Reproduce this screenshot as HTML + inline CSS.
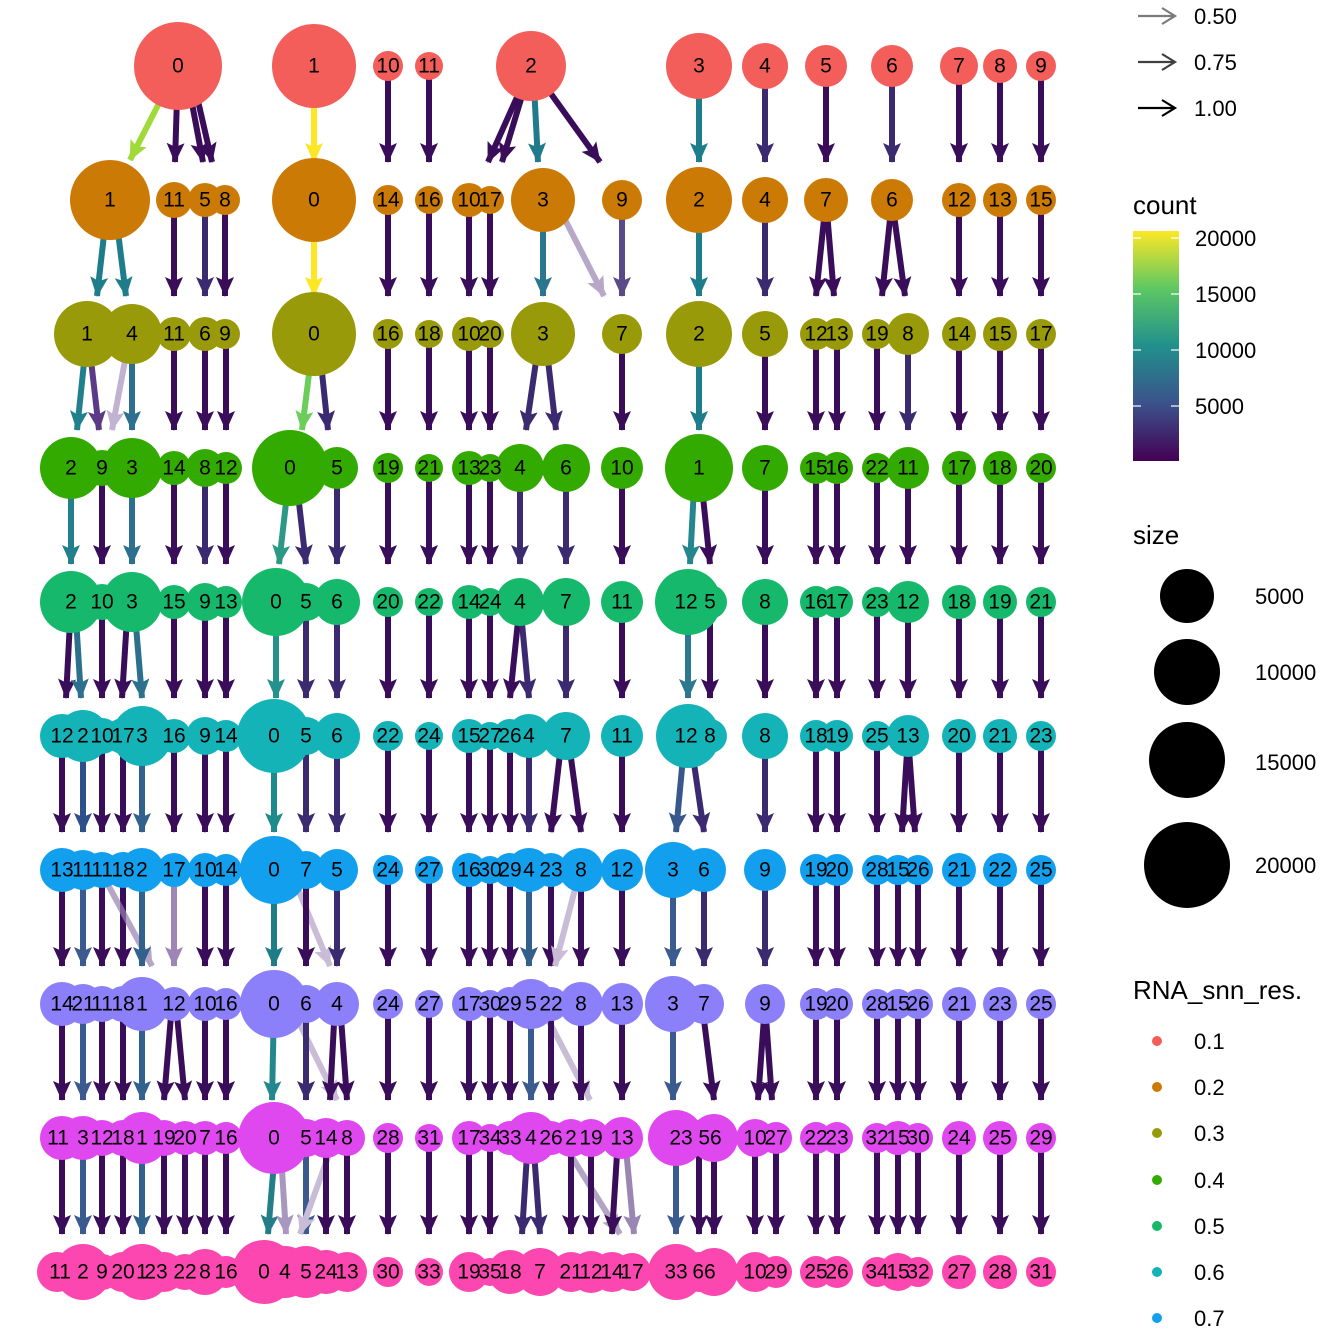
<!DOCTYPE html>
<html><head><meta charset="utf-8"><style>
html,body{margin:0;padding:0;background:#fff}
svg{display:block}
text{font-family:"Liberation Sans",sans-serif;fill:#000}
.n text{font-size:21px;text-anchor:middle;dominant-baseline:central}
.e path{fill:none;stroke-width:6;marker-end:url(#ah)}
</style></head><body>
<svg width="1344" height="1344" viewBox="0 0 1344 1344" xmlns="http://www.w3.org/2000/svg">
<defs>
<marker id="ah" markerUnits="userSpaceOnUse" markerWidth="22" markerHeight="22" refX="19" refY="11" orient="auto" viewBox="0 0 22 22">
<path d="M0,2 L20,11 L0,20 L4,11 z" fill="context-stroke" stroke="none"/>
</marker>
<linearGradient id="vir" x1="0" y1="1" x2="0" y2="0">
<stop offset="0" stop-color="#440154"/><stop offset="0.25" stop-color="#3B528B"/><stop offset="0.5" stop-color="#21908C"/><stop offset="0.75" stop-color="#5DC863"/><stop offset="1" stop-color="#FDE725"/>
</linearGradient>
</defs>
<g class="e" stroke="#3a0d5a">
<!-- T1 -->
<path d="M178 66L130 160" stroke="#A0DA39"/><path d="M178 66L175 162"/><path d="M185 66L203 162"/><path d="M190 66L212 162"/>
<path d="M314 66L314 162" stroke="#FDE725"/><path d="M388 66L388 162"/><path d="M429 66L429 162"/>
<path d="M531 66L488 162"/><path d="M531 66L502 162"/><path d="M533 66L538 162" stroke="#1F7A8C"/><path d="M531 66L600 162"/>
<path d="M699 66L699 162" stroke="#1E7D8B"/><path d="M765 66L765 162" stroke="#3b2a70"/><path d="M826 66L826 162"/><path d="M892 66L892 162" stroke="#3b2a70"/><path d="M959 66L959 162"/><path d="M1000 66L1000 162"/><path d="M1041 66L1041 162"/>
<!-- T2 -->
<path d="M108 200L97 296" stroke="#1F7D8B"/><path d="M114 200L126 296" stroke="#1F7D8B"/><path d="M174 200L174 296"/><path d="M205 200L205 296" stroke="#3b2a70"/><path d="M225 200L225 296"/>
<path d="M314 200L314 296" stroke="#FDE725"/><path d="M388 200L388 296"/><path d="M429 200L429 296"/><path d="M469 200L469 296"/><path d="M490 200L490 296"/>
<path d="M543 200L543 296" stroke="#2A768E"/><path d="M555 200L604 296" stroke="#b7a8c8"/><path d="M622 200L622 296" stroke="#5a4a88"/><path d="M699 200L699 296" stroke="#1E7D8B"/><path d="M765 200L765 296" stroke="#3b2a70"/>
<path d="M826 200L816 296"/><path d="M826 200L834 296"/><path d="M892 200L882 296"/><path d="M892 200L905 296"/><path d="M959 200L959 296"/><path d="M1000 200L1000 296"/><path d="M1041 200L1041 296"/>
<!-- T3 -->
<path d="M87 334L77 430" stroke="#21808C"/><path d="M88 334L99 430" stroke="#5b3a88"/><path d="M130 334L112 430" stroke="#c0b2d0"/><path d="M132 334L132 430" stroke="#2D6F8E"/><path d="M174 334L174 430"/><path d="M205 334L205 430"/><path d="M226 334L226 430"/>
<path d="M314 334L302 430" stroke="#6CCD5A"/><path d="M318 334L328 430" stroke="#3b2a70"/><path d="M388 334L388 430"/><path d="M429 334L429 430"/><path d="M469 334L469 430"/><path d="M490 334L490 430"/>
<path d="M540 334L526 430" stroke="#3b2a70"/><path d="M545 334L556 430" stroke="#3b2a70"/><path d="M622 334L622 430"/><path d="M699 334L699 430" stroke="#1E7D8B"/><path d="M765 334L765 430"/><path d="M816 334L816 430"/><path d="M837 334L837 430"/><path d="M877 334L877 430"/><path d="M908 334L908 430" stroke="#3b2a70"/><path d="M959 334L959 430"/><path d="M1000 334L1000 430"/><path d="M1041 334L1041 430"/>
<!-- T4 -->
<path d="M71 468L71 564" stroke="#21808C"/><path d="M102 468L102 564"/><path d="M132 468L132 564" stroke="#2D6F8E"/><path d="M174 468L174 564"/><path d="M205 468L205 564" stroke="#3b2a70"/><path d="M226 468L226 564"/>
<path d="M290 468L279 564" stroke="#2A9A86"/><path d="M295 468L306 564" stroke="#3b2a70"/><path d="M337 468L337 564" stroke="#3b2a70"/><path d="M388 468L388 564"/><path d="M429 468L429 564"/><path d="M469 468L469 564"/><path d="M490 468L490 564"/><path d="M520 468L520 564" stroke="#3b2a70"/><path d="M566 468L566 564" stroke="#3b2a70"/><path d="M622 468L622 564"/>
<path d="M695 468L690 564" stroke="#24868E"/><path d="M700 468L710 564"/><path d="M765 468L765 564"/><path d="M816 468L816 564"/><path d="M837 468L837 564"/><path d="M877 468L877 564"/><path d="M908 468L908 564"/><path d="M959 468L959 564"/><path d="M1000 468L1000 564"/><path d="M1041 468L1041 564"/>
<!-- T5 -->
<path d="M71 602L66 698"/><path d="M75 602L81 698" stroke="#2D708E"/><path d="M102 602L102 698"/><path d="M128 602L122 698"/><path d="M134 602L142 698" stroke="#2D708E"/><path d="M174 602L174 698"/><path d="M205 602L205 698"/><path d="M226 602L226 698"/>
<path d="M276 602L276 698" stroke="#25918C"/><path d="M306 602L306 698" stroke="#3b2a70"/><path d="M337 602L337 698" stroke="#3b2a70"/><path d="M388 602L388 698"/><path d="M429 602L429 698"/><path d="M469 602L469 698"/><path d="M490 602L490 698"/><path d="M520 602L510 698"/><path d="M520 602L529 698" stroke="#3b2a70"/><path d="M566 602L566 698" stroke="#3b2a70"/><path d="M622 602L622 698"/>
<path d="M688 602L688 698" stroke="#2C788E"/><path d="M710 602L710 698"/><path d="M765 602L765 698"/><path d="M816 602L816 698"/><path d="M837 602L837 698"/><path d="M877 602L877 698"/><path d="M908 602L908 698"/><path d="M959 602L959 698"/><path d="M1000 602L1000 698"/><path d="M1041 602L1041 698"/>
<!-- T6 -->
<path d="M62 736L62 832"/><path d="M83 736L83 832" stroke="#2D508a"/><path d="M102 736L102 832"/><path d="M123 736L123 832"/><path d="M142 736L142 832" stroke="#31628E"/><path d="M174 736L174 832"/><path d="M205 736L205 832"/><path d="M226 736L226 832"/>
<path d="M274 736L274 832" stroke="#1E8A8A"/><path d="M306 736L306 832" stroke="#3b2a70"/><path d="M337 736L337 832" stroke="#3b2a70"/><path d="M388 736L388 832"/><path d="M429 736L429 832"/><path d="M469 736L469 832"/><path d="M490 736L490 832"/><path d="M510 736L510 832"/><path d="M529 736L529 832" stroke="#3b2a70"/><path d="M562 736L551 832"/><path d="M568 736L581 832"/><path d="M622 736L622 832"/>
<path d="M685 736L676 832" stroke="#37578D"/><path d="M690 736L704 832" stroke="#3b2a70"/><path d="M765 736L765 832" stroke="#3b2a70"/><path d="M816 736L816 832"/><path d="M837 736L837 832"/><path d="M877 736L877 832"/><path d="M908 736L902 832"/><path d="M908 736L915 832"/><path d="M959 736L959 832"/><path d="M1000 736L1000 832"/><path d="M1041 736L1041 832"/>
<!-- T7 -->
<path d="M62 870L62 966"/><path d="M83 870L83 966" stroke="#3B5A8F"/><path d="M102 870L102 966"/><path d="M123 870L123 966"/><path d="M100 870L152 966" stroke="#9a80b0" opacity=".7"/><path d="M142 870L142 966" stroke="#31628E"/><path d="M174 870L174 966" stroke="#9D86B5"/><path d="M205 870L205 966"/><path d="M226 870L226 966"/>
<path d="M274 870L274 966" stroke="#1F7D88"/><path d="M290 870L330 966" stroke="#c8bcd6"/><path d="M306 870L306 966"/><path d="M337 870L337 966" stroke="#3b2a70"/><path d="M388 870L388 966"/><path d="M429 870L429 966"/><path d="M469 870L469 966"/><path d="M490 870L490 966"/><path d="M510 870L510 966"/><path d="M529 870L529 966" stroke="#335F8D"/><path d="M551 870L551 966"/><path d="M580 870L555 966" stroke="#c8bcd6"/><path d="M581 870L581 966"/><path d="M622 870L622 966"/>
<path d="M673 870L673 966" stroke="#3B5A8F"/><path d="M704 870L704 966" stroke="#3b2a70"/><path d="M765 870L765 966" stroke="#3b2a70"/><path d="M816 870L816 966"/><path d="M837 870L837 966"/><path d="M877 870L877 966"/><path d="M898 870L898 966"/><path d="M918 870L918 966"/><path d="M959 870L959 966"/><path d="M1000 870L1000 966"/><path d="M1041 870L1041 966"/>
<!-- T8 -->
<path d="M62 1004L62 1100"/><path d="M83 1004L83 1100" stroke="#3B5A8F"/><path d="M102 1004L102 1100"/><path d="M123 1004L123 1100"/><path d="M142 1004L142 1100" stroke="#31628E"/><path d="M172 1004L164 1100"/><path d="M176 1004L185 1100"/><path d="M205 1004L205 1100"/><path d="M226 1004L226 1100"/>
<path d="M274 1004L272 1100" stroke="#23888E"/><path d="M290 1004L337 1100" stroke="#c8bcd6"/><path d="M306 1004L306 1100" stroke="#3b2a70"/><path d="M335 1004L330 1100"/><path d="M340 1004L347 1100"/><path d="M388 1004L388 1100"/><path d="M429 1004L429 1100"/><path d="M469 1004L469 1100"/><path d="M490 1004L490 1100"/><path d="M510 1004L510 1100"/><path d="M531 1004L531 1100" stroke="#3B5A8F"/><path d="M540 1004L590 1100" stroke="#c8bcd6"/><path d="M551 1004L551 1100"/><path d="M581 1004L581 1100"/><path d="M622 1004L622 1100"/>
<path d="M673 1004L673 1100" stroke="#3B5A8F"/><path d="M702 1004L714 1100"/><path d="M765 1004L758 1100"/><path d="M765 1004L772 1100"/><path d="M816 1004L816 1100"/><path d="M837 1004L837 1100"/><path d="M877 1004L877 1100"/><path d="M898 1004L898 1100"/><path d="M918 1004L918 1100"/><path d="M959 1004L959 1100"/><path d="M1000 1004L1000 1100"/><path d="M1041 1004L1041 1100"/>
<!-- T9 -->
<path d="M62 1138L62 1234"/><path d="M83 1138L83 1234" stroke="#3B5A8F"/><path d="M102 1138L102 1234"/><path d="M123 1138L123 1234"/><path d="M142 1138L142 1234" stroke="#31628E"/><path d="M164 1138L164 1234"/><path d="M185 1138L185 1234"/><path d="M205 1138L205 1234"/><path d="M226 1138L226 1234"/>
<path d="M276 1138L268 1234" stroke="#237E87"/><path d="M280 1138L286 1234" stroke="#a898c0"/><path d="M306 1138L306 1234" stroke="#3B5A8F"/><path d="M335 1138L300 1234" stroke="#c8bcd6"/><path d="M326 1138L326 1234"/><path d="M347 1138L347 1234"/><path d="M388 1138L388 1234"/><path d="M429 1138L429 1234"/><path d="M469 1138L469 1234"/><path d="M490 1138L490 1234"/><path d="M528 1138L522 1234" stroke="#3b2a70"/><path d="M533 1138L540 1234" stroke="#3b2a70"/><path d="M560 1138L620 1234" stroke="#b3a4c6"/><path d="M571 1138L571 1234"/><path d="M591 1138L591 1234"/><path d="M618 1138L612 1234"/><path d="M625 1138L634 1234" stroke="#9a86b2"/>
<path d="M676 1138L676 1234" stroke="#3B5A8F"/><path d="M699 1138L699 1234"/><path d="M714 1138L714 1234"/><path d="M755 1138L755 1234"/><path d="M776 1138L776 1234"/><path d="M816 1138L816 1234"/><path d="M837 1138L837 1234"/><path d="M877 1138L877 1234"/><path d="M898 1138L898 1234"/><path d="M918 1138L918 1234"/><path d="M959 1138L959 1234"/><path d="M1000 1138L1000 1234"/><path d="M1041 1138L1041 1234"/>
</g>

<!-- Row 1 -->
<g class="n" fill="#F35E5A">
<circle cx="178" cy="66" r="44"/><circle cx="314" cy="66" r="42"/><circle cx="388" cy="66" r="15"/><circle cx="429" cy="66" r="14"/><circle cx="531" cy="66" r="35"/><circle cx="699" cy="66" r="33"/><circle cx="765" cy="66" r="23"/><circle cx="826" cy="66" r="21"/><circle cx="892" cy="66" r="21"/><circle cx="959" cy="66" r="19"/><circle cx="1000" cy="66" r="17"/><circle cx="1041" cy="66" r="15"/>
<text x="178" y="66">0</text><text x="314" y="66">1</text><text x="388" y="66">10</text><text x="429" y="66">11</text><text x="531" y="66">2</text><text x="699" y="66">3</text><text x="765" y="66">4</text><text x="826" y="66">5</text><text x="892" y="66">6</text><text x="959" y="66">7</text><text x="1000" y="66">8</text><text x="1041" y="66">9</text>
</g>
<!-- Row 2 -->
<g class="n" fill="#CC7A06">
<circle cx="110" cy="200" r="40"/><circle cx="174" cy="200" r="18"/><circle cx="205" cy="200" r="17"/><circle cx="225" cy="200" r="15"/><circle cx="314" cy="200" r="42"/><circle cx="388" cy="200" r="15"/><circle cx="429" cy="200" r="14"/><circle cx="469" cy="200" r="17"/><circle cx="490" cy="200" r="14"/><circle cx="543" cy="200" r="32"/><circle cx="622" cy="200" r="20"/><circle cx="699" cy="200" r="33"/><circle cx="765" cy="200" r="23"/><circle cx="826" cy="200" r="22"/><circle cx="892" cy="200" r="21"/><circle cx="959" cy="200" r="17"/><circle cx="1000" cy="200" r="17"/><circle cx="1041" cy="200" r="15"/>
<text x="110" y="200">1</text><text x="174" y="200">11</text><text x="205" y="200">5</text><text x="225" y="200">8</text><text x="314" y="200">0</text><text x="388" y="200">14</text><text x="429" y="200">16</text><text x="469" y="200">10</text><text x="490" y="200">17</text><text x="543" y="200">3</text><text x="622" y="200">9</text><text x="699" y="200">2</text><text x="765" y="200">4</text><text x="826" y="200">7</text><text x="892" y="200">6</text><text x="959" y="200">12</text><text x="1000" y="200">13</text><text x="1041" y="200">15</text>
</g>
<!-- Row 3 -->
<g class="n" fill="#999A0A">
<circle cx="87" cy="334" r="33"/><circle cx="132" cy="334" r="30"/><circle cx="174" cy="334" r="17"/><circle cx="205" cy="334" r="17"/><circle cx="225" cy="334" r="15"/><circle cx="314" cy="334" r="42"/><circle cx="388" cy="334" r="15"/><circle cx="429" cy="334" r="14"/><circle cx="469" cy="334" r="17"/><circle cx="490" cy="334" r="14"/><circle cx="543" cy="334" r="32"/><circle cx="622" cy="334" r="20"/><circle cx="699" cy="334" r="33"/><circle cx="765" cy="334" r="23"/><circle cx="816" cy="334" r="16"/><circle cx="837" cy="334" r="16"/><circle cx="877" cy="334" r="15"/><circle cx="908" cy="334" r="21"/><circle cx="959" cy="334" r="17"/><circle cx="1000" cy="334" r="17"/><circle cx="1041" cy="334" r="15"/>
<text x="87" y="334">1</text><text x="132" y="334">4</text><text x="174" y="334">11</text><text x="205" y="334">6</text><text x="225" y="334">9</text><text x="314" y="334">0</text><text x="388" y="334">16</text><text x="429" y="334">18</text><text x="469" y="334">10</text><text x="490" y="334">20</text><text x="543" y="334">3</text><text x="622" y="334">7</text><text x="699" y="334">2</text><text x="765" y="334">5</text><text x="816" y="334">12</text><text x="837" y="334">13</text><text x="877" y="334">19</text><text x="908" y="334">8</text><text x="959" y="334">14</text><text x="1000" y="334">15</text><text x="1041" y="334">17</text>
</g>
<!-- Row 4 -->
<g class="n" fill="#33AA00">
<circle cx="71" cy="468" r="31"/><circle cx="102" cy="468" r="18"/><circle cx="132" cy="468" r="30"/><circle cx="174" cy="468" r="17"/><circle cx="205" cy="468" r="19"/><circle cx="226" cy="468" r="16"/><circle cx="290" cy="468" r="38"/><circle cx="337" cy="468" r="21"/><circle cx="388" cy="468" r="15"/><circle cx="429" cy="468" r="14"/><circle cx="469" cy="468" r="17"/><circle cx="490" cy="468" r="14"/><circle cx="520" cy="468" r="24"/><circle cx="566" cy="468" r="24"/><circle cx="622" cy="468" r="21"/><circle cx="699" cy="468" r="34"/><circle cx="765" cy="468" r="23"/><circle cx="816" cy="468" r="16"/><circle cx="837" cy="468" r="16"/><circle cx="877" cy="468" r="15"/><circle cx="908" cy="468" r="21"/><circle cx="959" cy="468" r="17"/><circle cx="1000" cy="468" r="17"/><circle cx="1041" cy="468" r="15"/>
<text x="71" y="468">2</text><text x="102" y="468">9</text><text x="132" y="468">3</text><text x="174" y="468">14</text><text x="205" y="468">8</text><text x="226" y="468">12</text><text x="290" y="468">0</text><text x="337" y="468">5</text><text x="388" y="468">19</text><text x="429" y="468">21</text><text x="469" y="468">13</text><text x="490" y="468">23</text><text x="520" y="468">4</text><text x="566" y="468">6</text><text x="622" y="468">10</text><text x="699" y="468">1</text><text x="765" y="468">7</text><text x="816" y="468">15</text><text x="837" y="468">16</text><text x="877" y="468">22</text><text x="908" y="468">11</text><text x="959" y="468">17</text><text x="1000" y="468">18</text><text x="1041" y="468">20</text>
</g>
<!-- Row 5 -->
<g class="n" fill="#16B96B">
<circle cx="71" cy="602" r="31"/><circle cx="102" cy="602" r="18"/><circle cx="132" cy="602" r="30"/><circle cx="174" cy="602" r="17"/><circle cx="205" cy="602" r="19"/><circle cx="226" cy="602" r="16"/><circle cx="276" cy="602" r="34"/><circle cx="306" cy="602" r="19"/><circle cx="337" cy="602" r="23"/><circle cx="388" cy="602" r="15"/><circle cx="429" cy="602" r="14"/><circle cx="469" cy="602" r="17"/><circle cx="490" cy="602" r="14"/><circle cx="520" cy="602" r="24"/><circle cx="566" cy="602" r="24"/><circle cx="622" cy="602" r="21"/><circle cx="688" cy="602" r="33"/><circle cx="710" cy="602" r="17"/><circle cx="765" cy="602" r="23"/><circle cx="816" cy="602" r="16"/><circle cx="837" cy="602" r="16"/><circle cx="877" cy="602" r="15"/><circle cx="908" cy="602" r="21"/><circle cx="959" cy="602" r="17"/><circle cx="1000" cy="602" r="17"/><circle cx="1041" cy="602" r="15"/>
<text x="71" y="602">2</text><text x="102" y="602">10</text><text x="132" y="602">3</text><text x="174" y="602">15</text><text x="205" y="602">9</text><text x="226" y="602">13</text><text x="276" y="602">0</text><text x="306" y="602">5</text><text x="337" y="602">6</text><text x="388" y="602">20</text><text x="429" y="602">22</text><text x="469" y="602">14</text><text x="490" y="602">24</text><text x="520" y="602">4</text><text x="566" y="602">7</text><text x="622" y="602">11</text><text x="686" y="602">12</text><text x="710" y="602">5</text><text x="765" y="602">8</text><text x="816" y="602">16</text><text x="837" y="602">17</text><text x="877" y="602">23</text><text x="908" y="602">12</text><text x="959" y="602">18</text><text x="1000" y="602">19</text><text x="1041" y="602">21</text>
</g>
<!-- Row 6 -->
<g class="n" fill="#14B3B8">
<circle cx="62" cy="736" r="22"/><circle cx="83" cy="736" r="26"/><circle cx="102" cy="736" r="18"/><circle cx="123" cy="736" r="18"/><circle cx="142" cy="736" r="30"/><circle cx="174" cy="736" r="17"/><circle cx="205" cy="736" r="19"/><circle cx="226" cy="736" r="16"/><circle cx="274" cy="736" r="37"/><circle cx="306" cy="736" r="19"/><circle cx="337" cy="736" r="23"/><circle cx="388" cy="736" r="15"/><circle cx="429" cy="736" r="14"/><circle cx="469" cy="736" r="17"/><circle cx="490" cy="736" r="14"/><circle cx="510" cy="736" r="17"/><circle cx="529" cy="736" r="22"/><circle cx="566" cy="736" r="24"/><circle cx="622" cy="736" r="21"/><circle cx="688" cy="736" r="32"/><circle cx="710" cy="736" r="17"/><circle cx="765" cy="736" r="23"/><circle cx="816" cy="736" r="16"/><circle cx="837" cy="736" r="16"/><circle cx="877" cy="736" r="15"/><circle cx="908" cy="736" r="21"/><circle cx="959" cy="736" r="17"/><circle cx="1000" cy="736" r="17"/><circle cx="1041" cy="736" r="15"/>
<text x="62" y="736">12</text><text x="83" y="736">2</text><text x="102" y="736">10</text><text x="123" y="736">17</text><text x="142" y="736">3</text><text x="174" y="736">16</text><text x="205" y="736">9</text><text x="226" y="736">14</text><text x="274" y="736">0</text><text x="306" y="736">5</text><text x="337" y="736">6</text><text x="388" y="736">22</text><text x="429" y="736">24</text><text x="469" y="736">15</text><text x="490" y="736">27</text><text x="510" y="736">26</text><text x="529" y="736">4</text><text x="566" y="736">7</text><text x="622" y="736">11</text><text x="686" y="736">12</text><text x="710" y="736">8</text><text x="765" y="736">8</text><text x="816" y="736">18</text><text x="837" y="736">19</text><text x="877" y="736">25</text><text x="908" y="736">13</text><text x="959" y="736">20</text><text x="1000" y="736">21</text><text x="1041" y="736">23</text>
</g>
<!-- Row 7 -->
<g class="n" fill="#12A0EE">
<circle cx="62" cy="870" r="22"/><circle cx="83" cy="870" r="20"/><circle cx="102" cy="870" r="18"/><circle cx="123" cy="870" r="18"/><circle cx="142" cy="870" r="22"/><circle cx="174" cy="870" r="17"/><circle cx="205" cy="870" r="17"/><circle cx="226" cy="870" r="16"/><circle cx="274" cy="870" r="34"/><circle cx="306" cy="870" r="19"/><circle cx="337" cy="870" r="21"/><circle cx="388" cy="870" r="15"/><circle cx="429" cy="870" r="14"/><circle cx="469" cy="870" r="17"/><circle cx="490" cy="870" r="14"/><circle cx="510" cy="870" r="17"/><circle cx="529" cy="870" r="22"/><circle cx="551" cy="870" r="17"/><circle cx="581" cy="870" r="22"/><circle cx="622" cy="870" r="21"/><circle cx="673" cy="870" r="28"/><circle cx="704" cy="870" r="22"/><circle cx="765" cy="870" r="21"/><circle cx="816" cy="870" r="16"/><circle cx="837" cy="870" r="16"/><circle cx="877" cy="870" r="15"/><circle cx="898" cy="870" r="15"/><circle cx="918" cy="870" r="15"/><circle cx="959" cy="870" r="17"/><circle cx="1000" cy="870" r="17"/><circle cx="1041" cy="870" r="15"/>
<text x="62" y="870">13</text><text x="83" y="870">11</text><text x="102" y="870">11</text><text x="123" y="870">18</text><text x="142" y="870">2</text><text x="174" y="870">17</text><text x="205" y="870">10</text><text x="226" y="870">14</text><text x="274" y="870">0</text><text x="306" y="870">7</text><text x="337" y="870">5</text><text x="388" y="870">24</text><text x="429" y="870">27</text><text x="469" y="870">16</text><text x="490" y="870">30</text><text x="510" y="870">29</text><text x="529" y="870">4</text><text x="551" y="870">23</text><text x="581" y="870">8</text><text x="622" y="870">12</text><text x="673" y="870">3</text><text x="704" y="870">6</text><text x="765" y="870">9</text><text x="816" y="870">19</text><text x="837" y="870">20</text><text x="877" y="870">28</text><text x="898" y="870">15</text><text x="918" y="870">26</text><text x="959" y="870">21</text><text x="1000" y="870">22</text><text x="1041" y="870">25</text>
</g>
<!-- Row 8 -->
<g class="n" fill="#8B80F9">
<circle cx="62" cy="1004" r="22"/><circle cx="83" cy="1004" r="20"/><circle cx="102" cy="1004" r="18"/><circle cx="123" cy="1004" r="18"/><circle cx="142" cy="1004" r="27"/><circle cx="174" cy="1004" r="17"/><circle cx="205" cy="1004" r="17"/><circle cx="226" cy="1004" r="16"/><circle cx="274" cy="1004" r="34"/><circle cx="306" cy="1004" r="19"/><circle cx="337" cy="1004" r="22"/><circle cx="388" cy="1004" r="15"/><circle cx="429" cy="1004" r="14"/><circle cx="469" cy="1004" r="17"/><circle cx="490" cy="1004" r="14"/><circle cx="510" cy="1004" r="17"/><circle cx="531" cy="1004" r="25"/><circle cx="551" cy="1004" r="17"/><circle cx="581" cy="1004" r="22"/><circle cx="622" cy="1004" r="21"/><circle cx="673" cy="1004" r="28"/><circle cx="704" cy="1004" r="20"/><circle cx="765" cy="1004" r="20"/><circle cx="816" cy="1004" r="16"/><circle cx="837" cy="1004" r="16"/><circle cx="877" cy="1004" r="15"/><circle cx="898" cy="1004" r="15"/><circle cx="918" cy="1004" r="15"/><circle cx="959" cy="1004" r="17"/><circle cx="1000" cy="1004" r="17"/><circle cx="1041" cy="1004" r="15"/>
<text x="62" y="1004">14</text><text x="83" y="1004">21</text><text x="102" y="1004">11</text><text x="123" y="1004">18</text><text x="142" y="1004">1</text><text x="174" y="1004">12</text><text x="205" y="1004">10</text><text x="226" y="1004">16</text><text x="274" y="1004">0</text><text x="306" y="1004">6</text><text x="337" y="1004">4</text><text x="388" y="1004">24</text><text x="429" y="1004">27</text><text x="469" y="1004">17</text><text x="490" y="1004">30</text><text x="510" y="1004">29</text><text x="531" y="1004">5</text><text x="551" y="1004">22</text><text x="581" y="1004">8</text><text x="622" y="1004">13</text><text x="673" y="1004">3</text><text x="704" y="1004">7</text><text x="765" y="1004">9</text><text x="816" y="1004">19</text><text x="837" y="1004">20</text><text x="877" y="1004">28</text><text x="898" y="1004">15</text><text x="918" y="1004">26</text><text x="959" y="1004">21</text><text x="1000" y="1004">23</text><text x="1041" y="1004">25</text>
</g>
<!-- Row 9 -->
<g class="n" fill="#E048EF">
<circle cx="62" cy="1138" r="22"/><circle cx="83" cy="1138" r="22"/><circle cx="102" cy="1138" r="18"/><circle cx="123" cy="1138" r="18"/><circle cx="142" cy="1138" r="26"/><circle cx="164" cy="1138" r="18"/><circle cx="185" cy="1138" r="17"/><circle cx="205" cy="1138" r="17"/><circle cx="226" cy="1138" r="16"/><circle cx="274" cy="1138" r="36"/><circle cx="306" cy="1138" r="19"/><circle cx="326" cy="1138" r="20"/><circle cx="347" cy="1138" r="18"/><circle cx="388" cy="1138" r="15"/><circle cx="429" cy="1138" r="14"/><circle cx="469" cy="1138" r="17"/><circle cx="490" cy="1138" r="14"/><circle cx="510" cy="1138" r="17"/><circle cx="531" cy="1138" r="26"/><circle cx="551" cy="1138" r="17"/><circle cx="571" cy="1138" r="19"/><circle cx="591" cy="1138" r="19"/><circle cx="622" cy="1138" r="21"/><circle cx="676" cy="1138" r="28"/><circle cx="698" cy="1138" r="18"/><circle cx="714" cy="1138" r="24"/><circle cx="755" cy="1138" r="19"/><circle cx="776" cy="1138" r="16"/><circle cx="816" cy="1138" r="16"/><circle cx="837" cy="1138" r="16"/><circle cx="877" cy="1138" r="15"/><circle cx="898" cy="1138" r="17"/><circle cx="918" cy="1138" r="15"/><circle cx="959" cy="1138" r="17"/><circle cx="1000" cy="1138" r="17"/><circle cx="1041" cy="1138" r="15"/>
<text x="58" y="1138">11</text><text x="83" y="1138">3</text><text x="102" y="1138">12</text><text x="123" y="1138">18</text><text x="142" y="1138">1</text><text x="164" y="1138">19</text><text x="185" y="1138">20</text><text x="205" y="1138">7</text><text x="226" y="1138">16</text><text x="274" y="1138">0</text><text x="306" y="1138">5</text><text x="326" y="1138">14</text><text x="347" y="1138">8</text><text x="388" y="1138">28</text><text x="429" y="1138">31</text><text x="469" y="1138">17</text><text x="490" y="1138">34</text><text x="510" y="1138">33</text><text x="531" y="1138">4</text><text x="551" y="1138">26</text><text x="571" y="1138">2</text><text x="591" y="1138">19</text><text x="622" y="1138">13</text><text x="681" y="1138">23</text><text x="710" y="1138">56</text><text x="755" y="1138">10</text><text x="776" y="1138">27</text><text x="816" y="1138">22</text><text x="837" y="1138">23</text><text x="877" y="1138">32</text><text x="898" y="1138">15</text><text x="918" y="1138">30</text><text x="959" y="1138">24</text><text x="1000" y="1138">25</text><text x="1041" y="1138">29</text>
</g>
<!-- Row 10 -->
<g class="n" fill="#FB47AF">
<circle cx="57" cy="1272" r="20"/><circle cx="83" cy="1272" r="28"/><circle cx="102" cy="1272" r="18"/><circle cx="123" cy="1272" r="20"/><circle cx="142" cy="1272" r="28"/><circle cx="164" cy="1272" r="20"/><circle cx="185" cy="1272" r="18"/><circle cx="205" cy="1272" r="23"/><circle cx="226" cy="1272" r="16"/><circle cx="264" cy="1272" r="32"/><circle cx="285" cy="1272" r="26"/><circle cx="306" cy="1272" r="26"/><circle cx="326" cy="1272" r="22"/><circle cx="347" cy="1272" r="20"/><circle cx="388" cy="1272" r="15"/><circle cx="429" cy="1272" r="14"/><circle cx="469" cy="1272" r="20"/><circle cx="490" cy="1272" r="14"/><circle cx="510" cy="1272" r="22"/><circle cx="540" cy="1272" r="24"/><circle cx="571" cy="1272" r="20"/><circle cx="591" cy="1272" r="21"/><circle cx="612" cy="1272" r="20"/><circle cx="632" cy="1272" r="19"/><circle cx="676" cy="1272" r="28"/><circle cx="699" cy="1272" r="20"/><circle cx="714" cy="1272" r="24"/><circle cx="755" cy="1272" r="20"/><circle cx="776" cy="1272" r="16"/><circle cx="816" cy="1272" r="16"/><circle cx="837" cy="1272" r="16"/><circle cx="877" cy="1272" r="15"/><circle cx="898" cy="1272" r="19"/><circle cx="918" cy="1272" r="15"/><circle cx="959" cy="1272" r="17"/><circle cx="1000" cy="1272" r="17"/><circle cx="1041" cy="1272" r="15"/>
<text x="60" y="1272">11</text><text x="83" y="1272">2</text><text x="102" y="1272">9</text><text x="123" y="1272">20</text><text x="142" y="1272">1</text><text x="156" y="1272">23</text><text x="185" y="1272">22</text><text x="205" y="1272">8</text><text x="226" y="1272">16</text><text x="264" y="1272">0</text><text x="285" y="1272">4</text><text x="306" y="1272">5</text><text x="326" y="1272">24</text><text x="347" y="1272">13</text><text x="388" y="1272">30</text><text x="429" y="1272">33</text><text x="469" y="1272">19</text><text x="490" y="1272">35</text><text x="510" y="1272">18</text><text x="540" y="1272">7</text><text x="571" y="1272">21</text><text x="591" y="1272">12</text><text x="612" y="1272">14</text><text x="632" y="1272">17</text><text x="676" y="1272">33</text><text x="704" y="1272">66</text><text x="755" y="1272">10</text><text x="776" y="1272">29</text><text x="816" y="1272">25</text><text x="837" y="1272">26</text><text x="877" y="1272">34</text><text x="898" y="1272">15</text><text x="918" y="1272">32</text><text x="959" y="1272">27</text><text x="1000" y="1272">28</text><text x="1041" y="1272">31</text>
</g>

<!-- Legend -->
<g font-size="22">
<g fill="none" stroke-width="2.2">
<path d="M1138 16H1174M1162 8L1175 16L1162 24" stroke="#7a7a7a"/>
<path d="M1138 62H1174M1162 54L1175 62L1162 70" stroke="#404040"/>
<path d="M1138 108H1174M1162 100L1175 108L1162 116" stroke="#000"/>
</g>
<text x="1194" y="24">0.50</text><text x="1194" y="70">0.75</text><text x="1194" y="116">1.00</text>
<text x="1133" y="214" font-size="26">count</text>
<rect x="1133" y="231" width="46" height="230" fill="url(#vir)"/>
<g stroke="#fff" stroke-width="1.5" opacity=".8">
<path d="M1133 238h8M1171 238h8M1133 294h8M1171 294h8M1133 350h8M1171 350h8M1133 406h8M1171 406h8"/>
</g>
<text x="1195" y="246">20000</text><text x="1195" y="302">15000</text><text x="1195" y="358">10000</text><text x="1195" y="414">5000</text>
<text x="1133" y="544" font-size="26">size</text>
<circle cx="1187" cy="596" r="27" fill="#000"/><circle cx="1187" cy="672" r="33" fill="#000"/><circle cx="1187" cy="760" r="38" fill="#000"/><circle cx="1187" cy="865" r="43" fill="#000"/>
<text x="1255" y="604">5000</text><text x="1255" y="680">10000</text><text x="1255" y="770">15000</text><text x="1255" y="873">20000</text>
<text x="1133" y="999" font-size="26">RNA_snn_res.</text>
<circle cx="1157" cy="1041" r="5" fill="#F35E5A"/><circle cx="1157" cy="1087" r="5" fill="#CC7A06"/><circle cx="1157" cy="1133" r="5" fill="#999A0A"/><circle cx="1157" cy="1180" r="5" fill="#33AA00"/><circle cx="1157" cy="1226" r="5" fill="#16B96B"/><circle cx="1157" cy="1272" r="5" fill="#14B3B8"/><circle cx="1157" cy="1318" r="5" fill="#12A0EE"/>
<text x="1194" y="1049">0.1</text><text x="1194" y="1095">0.2</text><text x="1194" y="1141">0.3</text><text x="1194" y="1188">0.4</text><text x="1194" y="1234">0.5</text><text x="1194" y="1280">0.6</text><text x="1194" y="1326">0.7</text>
</g>
</svg>
</body></html>
